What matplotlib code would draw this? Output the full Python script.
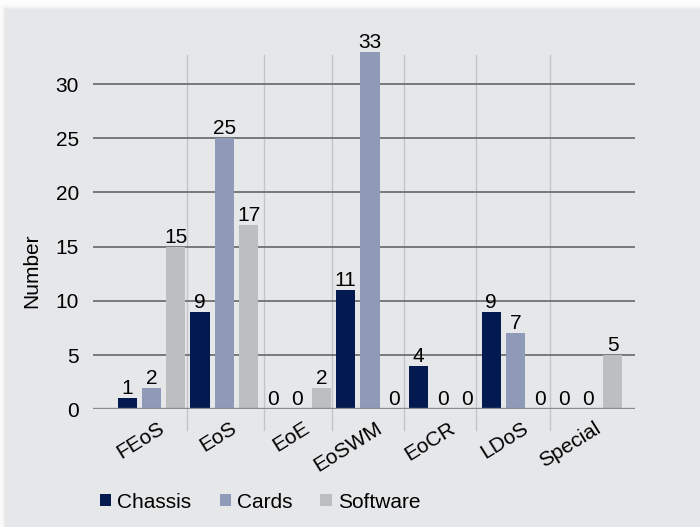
import numpy as np
import matplotlib
matplotlib.use("Agg")
import matplotlib.pyplot as plt
from matplotlib.patches import Patch
from matplotlib.transforms import offset_copy, blended_transform_factory

plt.rcParams['font.family'] = ['Liberation Sans', 'DejaVu Sans']

# ---- data ----
categories = ["FEoS", "EoS", "EoE", "EoSWM", "EoCR", "LDoS", "Special"]
series_names = ["Chassis", "Cards", "Software"]
chassis = [1, 9, 0, 11, 4, 9, 0]
cards = [2, 25, 0, 33, 0, 7, 0]
software = [15, 17, 2, 0, 0, 0, 5]
y_ticks = [0, 5, 10, 15, 20, 25, 30]

colors = ["#021a4f", "#8e9ab8", "#bdbec0"]
panel_gray = np.array([230, 231, 233]) / 255.0

W, H = 700, 527
fig = plt.figure(figsize=(W / 100, H / 100), dpi=100, facecolor="white")

# ---- background panel with a soft shadow along the top/left edge ----
bg = fig.add_axes([0, 0, 1, 1], zorder=-10)
bg.axis("off")
yy, xx = np.mgrid[0:H, 0:W].astype(float)
px0, py0 = 5.0, 9.0
dist = np.maximum(px0 - xx, py0 - yy)
img = np.ones((H, W, 3))
inside = dist <= 0
img[inside] = panel_gray
shade = 0.10 * np.exp(-np.clip(dist, 0, None) / 2.5)
out = ~inside
img[out] = 1.0 - shade[out][:, None]
bg.imshow(img, extent=(0, 1, 0, 1), aspect="auto", interpolation="bilinear")
bg.set_xlim(0, 1)
bg.set_ylim(0, 1)

# ---- main axes ----
ax_l, ax_r, ax_b, ax_t = 93, 635, 409.3, 55
ax = fig.add_axes([ax_l / W, (H - ax_b) / H, (ax_r - ax_l) / W, (ax_b - ax_t) / H])
ax.set_facecolor("none")
for s in ax.spines.values():
    s.set_visible(False)

n_series = len(series_names)
values = [chassis, cards, software]
bar_w = 0.80
ax.set_xlim(-1.41, 20.92)
ax.set_ylim(0, 32.68)

# horizontal gridlines
for t in y_ticks[1:]:
    ax.axhline(t, color="#6f7072", lw=1.3, zorder=1)
ax.axhline(0, color="#8b8c8e", lw=2.4, zorder=4)

# group separators, running below the baseline
separators = [2.48, 5.62, 8.44, 11.40, 14.37, 17.42]
drop = -21.0 / (ax_b - ax_t)
for sx in separators:
    ax.axvline(sx, ymin=drop, ymax=1, color="#c3c4c6", lw=1.0, zorder=0.5,
               clip_on=False)

# bars and value labels
for si in range(n_series):
    xs = [n_series * g + si for g in range(len(categories))]
    ax.bar(xs, values[si], width=bar_w, color=colors[si], zorder=3,
           clip_on=False)
    for x, v in zip(xs, values[si]):
        trans = offset_copy(ax.transData, fig=fig, x=0, y=4, units="dots")
        ax.text(x, v, str(v), transform=trans, ha="center", va="baseline",
                fontsize=15, color="black", zorder=5, clip_on=False)

# y axis ticks
ax.set_yticks(y_ticks)
ax.set_yticklabels([str(t) for t in y_ticks], fontsize=15)
ax.tick_params(axis="y", length=0, pad=10)
ax.set_xticks([])

# category labels, rotated
for g, name in enumerate(categories):
    xc = n_series * g + 1
    trans = offset_copy(ax.transData, fig=fig, x=6, y=-9, units="dots")
    ax.text(xc, 0, name, transform=trans, rotation=32, ha="right", va="top",
            rotation_mode="anchor", fontsize=15, color="black")

# axis title
fig.text(32 / W, 1 - 271 / H, "Number", rotation=90, ha="center", va="center",
         fontsize=15)

# legend
handles = [Patch(facecolor=c, edgecolor="none") for c in colors]
fig.legend(handles, series_names, loc="center left",
           bbox_to_anchor=(100 / W, 1 - 502 / H), ncol=3, frameon=False,
           fontsize=15, borderpad=0, borderaxespad=0, handlelength=0.53,
           handleheight=0.53, handletextpad=0.3, columnspacing=1.35)

fig.savefig("out.png", dpi=100, facecolor=fig.get_facecolor())
